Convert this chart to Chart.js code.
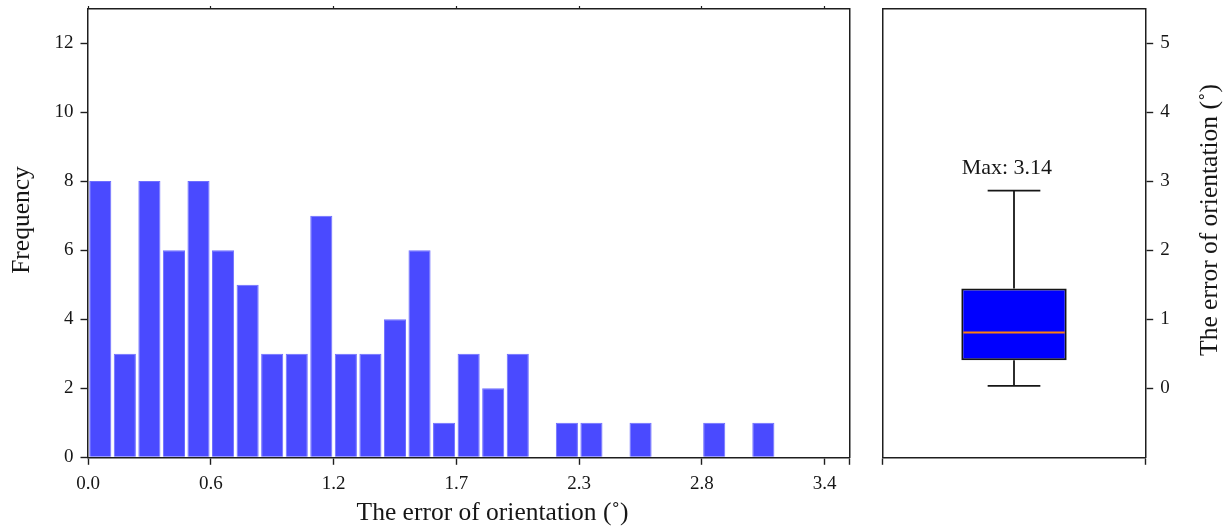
<!DOCTYPE html>
<html>
<head>
<meta charset="utf-8">
<script src="https://cdn.jsdelivr.net/npm/chart.js@4.4.0/dist/chart.umd.min.js"></script>
<style>
html, body { margin: 0; padding: 0; background: #ffffff; }
#wrap { position: relative; width: 1228px; height: 530px; overflow: hidden; }
#histCanvas { position: absolute; left: 0; top: 0; }
#boxCanvas { position: absolute; left: 866px; top: 0; }
</style>
</head>
<body>
<div id="wrap">
  <canvas id="histCanvas" width="866" height="530"></canvas>
  <canvas id="boxCanvas" width="362" height="530"></canvas>
</div>
<script>
// ---------------- data ----------------
const binCounts = [8, 3, 8, 6, 8, 6, 5, 3, 3, 7, 3, 3, 4, 6, 1, 3, 2, 3, 0, 1, 1, 0, 1, 0, 0, 1, 0, 1];
const xTickBins = [0, 5, 10, 15, 20, 25, 30];
const xTickLabels = ['0.0', '0.6', '1.2', '1.7', '2.3', '2.8', '3.4'];
const yTicksFreq = [0, 2, 4, 6, 8, 10, 12];
const yTicksErr = [0, 1, 2, 3, 4, 5];
// lower whisker, Q1, median, Q3, upper whisker
const boxValues = [0.035, 0.405, 0.808, 1.444, 2.863];
const maxError = 3.14;
const xTitleText = 'The error of orientation (˚)';
const yTitleLeft = 'Frequency';
const yTitleRight = 'The error of orientation (˚)';

// ---------------- styles ----------------
const FONT = "'Liberation Serif', 'Times New Roman', serif";
const INK = '#161616';
const AXIS = '#1e1e1e';
Chart.defaults.font.family = FONT;
Chart.defaults.color = INK;

function zeroPad(s) { s.paddingTop = 0; s.paddingBottom = 0; s.paddingLeft = 0; s.paddingRight = 0; }

const titlesPlugin = {
  id: 'titles',
  afterDraw(chart, args, opts) {
    const ctx = chart.ctx;
    (opts.items || []).forEach(t => {
      ctx.save();
      ctx.font = t.size + 'px ' + FONT;
      ctx.fillStyle = INK;
      ctx.textAlign = 'center';
      ctx.textBaseline = 'alphabetic';
      ctx.translate(t.x, t.y);
      if (t.rotate) ctx.rotate(t.rotate);
      ctx.fillText(t.text, 0, 0);
      ctx.restore();
    });
  }
};

// ---------------- histogram ----------------
const histPoints = binCounts.map((c, i) => ({ x: i + 0.5, y: c }));

new Chart(document.getElementById('histCanvas'), {
  type: 'bar',
  data: {
    datasets: [{
      label: 'Frequency',
      data: histPoints,
      backgroundColor: '#4a4aff',
      borderColor: '#6e6eff',
      borderWidth: 1,
      borderSkipped: 'bottom',
      barPercentage: 0.9,
      categoryPercentage: 1.0
    }]
  },
  options: {
    responsive: false,
    animation: false,
    devicePixelRatio: 1,
    layout: { padding: { left: 0, top: 8.5, right: 16.7, bottom: 0 } },
    plugins: {
      legend: { display: false },
      tooltip: { enabled: false },
      titles: {
        items: [
          { text: yTitleLeft, x: 28.5, y: 220, size: 25.5, rotate: -Math.PI / 2 },
          { text: xTitleText, x: 492.5, y: 520, size: 25.5 }
        ]
      }
    },
    scales: {
      x: {
        type: 'linear', position: 'bottom', min: 0, max: 31, offset: false,
        afterBuildTicks: s => { s.ticks = xTickBins.concat([31]).map(v => ({ value: v })); },
        afterFit: s => { s.height = 72.7; zeroPad(s); },
        ticks: {
          callback: (v, i) => (xTickLabels[i] !== undefined ? xTickLabels[i] : ''),
          font: { size: 19 }, color: INK, padding: 8, maxRotation: 0, autoSkip: false
        },
        grid: { offset: false, drawOnChartArea: false, drawTicks: true, tickLength: 7.5, tickWidth: 1.4, tickColor: AXIS },
        border: { display: true, color: AXIS, width: 1.5 }
      },
      y: {
        type: 'linear', position: 'left', min: 0, max: 13,
        afterBuildTicks: s => { s.ticks = yTicksFreq.map(v => ({ value: v })); },
        afterFit: s => { s.width = 88; zeroPad(s); },
        ticks: { font: { size: 19 }, color: INK, padding: 7 },
        grid: { drawOnChartArea: false, drawTicks: true, tickLength: 7.5, tickWidth: 1.4, tickColor: AXIS },
        border: { display: true, color: AXIS, width: 1.5 }
      },
      xTop: {
        type: 'linear', position: 'top', min: 0, max: 31, offset: false,
        afterBuildTicks: s => { s.ticks = xTickBins.map(v => ({ value: v })); },
        afterFit: s => { s.height = 0; zeroPad(s); },
        ticks: { display: false },
        grid: { offset: false, drawOnChartArea: false, drawTicks: true, tickLength: 2.5, tickWidth: 1.2, tickColor: AXIS },
        border: { display: true, color: AXIS, width: 1.5 }
      },
      yRight: {
        type: 'linear', position: 'right', min: 0, max: 13,
        afterFit: s => { s.width = 0; zeroPad(s); },
        ticks: { display: false },
        grid: { display: false },
        border: { display: true, color: AXIS, width: 1.5 }
      }
    }
  },
  plugins: [titlesPlugin]
});

// ---------------- box plot ----------------
const boxPlugin = {
  id: 'boxWhisker',
  afterDatasetsDraw(chart, args, o) {
    const xs = chart.scales.x, ys = chart.scales.y, ctx = chart.ctx;
    const [lo, q1, med, q3, hi] = boxValues;
    const bar = chart.getDatasetMeta(0).data[0];
    const cx = bar.x;
    const half = bar.width / 2;
    const capL = xs.getPixelForValue(1 - o.capHalf);
    const capR = xs.getPixelForValue(1 + o.capHalf);
    const Y = v => ys.getPixelForValue(v);
    const line = (x1, y1, x2, y2) => { ctx.beginPath(); ctx.moveTo(x1, y1); ctx.lineTo(x2, y2); ctx.stroke(); };
    ctx.save();
    ctx.strokeStyle = INK;
    ctx.lineWidth = 1.8;
    line(cx, Y(q3), cx, Y(hi));
    line(cx, Y(q1), cx, Y(lo));
    line(capL, Y(hi), capR, Y(hi));
    line(capL, Y(lo), capR, Y(lo));
    ctx.strokeStyle = '#ff7f0e';
    ctx.lineWidth = 2;
    line(cx - half + 2, Y(med), cx + half - 2, Y(med));
    ctx.font = o.labelSize + 'px ' + FONT;
    ctx.fillStyle = INK;
    ctx.textAlign = 'center';
    ctx.textBaseline = 'alphabetic';
    ctx.fillText('Max: ' + maxError.toFixed(2), xs.getPixelForValue(o.labelX), Y(hi) - o.labelGap);
    ctx.restore();
  }
};

new Chart(document.getElementById('boxCanvas'), {
  type: 'bar',
  data: {
    datasets: [{
      label: 'The error of orientation',
      data: [{ x: 1, y: [boxValues[1], boxValues[3]] }],
      backgroundColor: '#0000ff',
      borderColor: INK,
      borderWidth: 2,
      borderSkipped: false,
      barPercentage: 0.4,
      categoryPercentage: 1.0
    }]
  },
  options: {
    responsive: false,
    animation: false,
    devicePixelRatio: 1,
    layout: { padding: { left: 16.3, top: 8.5, right: 0, bottom: 0 } },
    plugins: {
      legend: { display: false },
      tooltip: { enabled: false },
      boxWhisker: { capHalf: 0.1, labelX: 0.973, labelGap: 17, labelSize: 22 },
      titles: {
        items: [
          { text: yTitleRight, x: 350.7, y: 220, size: 25.5, rotate: -Math.PI / 2 }
        ]
      }
    },
    scales: {
      x: {
        type: 'linear', position: 'bottom', min: 0.5, max: 1.5, offset: false,
        afterBuildTicks: s => { s.ticks = [{ value: 0.5 }, { value: 1.5 }]; },
        afterFit: s => { s.height = 72.7; zeroPad(s); },
        ticks: { callback: () => '', font: { size: 19 }, autoSkip: false, maxRotation: 0 },
        grid: { offset: false, drawOnChartArea: false, drawTicks: true, tickLength: 7.5, tickWidth: 1.4, tickColor: AXIS },
        border: { display: true, color: AXIS, width: 1.5 }
      },
      y: {
        type: 'linear', position: 'right', min: -1, max: 5.5,
        afterBuildTicks: s => { s.ticks = yTicksErr.map(v => ({ value: v })); },
        afterFit: s => { s.width = 82.3; zeroPad(s); },
        ticks: { font: { size: 19 }, color: INK, padding: 7 },
        grid: { drawOnChartArea: false, drawTicks: true, tickLength: 7.5, tickWidth: 1.4, tickColor: AXIS },
        border: { display: true, color: AXIS, width: 1.5 }
      },
      xTop: {
        type: 'linear', position: 'top', min: 0.5, max: 1.5, offset: false,
        afterFit: s => { s.height = 0; zeroPad(s); },
        ticks: { display: false },
        grid: { display: false },
        border: { display: true, color: AXIS, width: 1.5 }
      },
      yLeft: {
        type: 'linear', position: 'left', min: -1, max: 5.5,
        afterFit: s => { s.width = 0; zeroPad(s); },
        ticks: { display: false },
        grid: { display: false },
        border: { display: true, color: AXIS, width: 1.5 }
      }
    }
  },
  plugins: [boxPlugin, titlesPlugin]
});
</script>
</body>
</html>
